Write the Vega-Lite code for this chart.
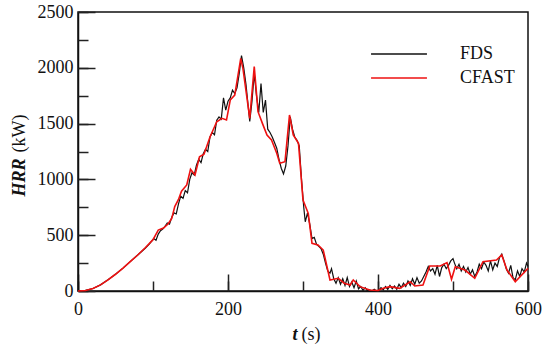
{
  "$schema": "https://vega.github.io/schema/vega-lite/v6.json",
  "width": 450,
  "height": 279,
  "autosize": {"type": "none"},
  "padding": {"left": 78, "top": 12, "right": 22, "bottom": 56},
  "background": "white",
  "config": {
    "font": "Liberation Serif",
    "view": {"stroke": "#111", "strokeWidth": 1.5},
    "axis": {
      "grid": false,
      "domainColor": "#111",
      "domainWidth": 1.5,
      "ticks": true,
      "tickColor": "#222",
      "tickWidth": 1.5,
      "labelFont": "Liberation Serif",
      "labelFontSize": 18,
      "labelColor": "#111",
      "titleFont": "Liberation Serif",
      "titleFontSize": 18,
      "titleColor": "#111"
    },
    "legend": {
      "labelFont": "Liberation Serif",
      "labelFontSize": 18,
      "labelColor": "#111"
    }
  },
  "datasets": {
    "fds": [
      {"t":0,"hrr":0},{"t":10,"hrr":5},{"t":20,"hrr":22},{"t":30,"hrr":55},{"t":40,"hrr":100},{"t":50,"hrr":150},{"t":60,"hrr":205},{"t":70,"hrr":265},{"t":80,"hrr":325},{"t":90,"hrr":385},{"t":95,"hrr":420},{"t":98,"hrr":445},{"t":101,"hrr":470},{"t":104,"hrr":455},{"t":107,"hrr":510},{"t":110,"hrr":540},{"t":113,"hrr":555},{"t":116,"hrr":580},{"t":119,"hrr":610},{"t":122,"hrr":600},{"t":125,"hrr":660},{"t":128,"hrr":700},{"t":131,"hrr":690},{"t":134,"hrr":780},{"t":137,"hrr":850},{"t":140,"hrr":830},{"t":143,"hrr":900},{"t":146,"hrr":880},{"t":149,"hrr":1000},{"t":152,"hrr":1060},{"t":155,"hrr":1040},{"t":158,"hrr":1130},{"t":161,"hrr":1180},{"t":164,"hrr":1150},{"t":167,"hrr":1230},{"t":170,"hrr":1270},{"t":173,"hrr":1250},{"t":176,"hrr":1380},{"t":179,"hrr":1420},{"t":182,"hrr":1400},{"t":185,"hrr":1530},{"t":188,"hrr":1560},{"t":191,"hrr":1540},{"t":194,"hrr":1730},{"t":197,"hrr":1620},{"t":200,"hrr":1700},{"t":203,"hrr":1730},{"t":206,"hrr":1800},{"t":209,"hrr":1770},{"t":212,"hrr":1820},{"t":215,"hrr":1950},{"t":218,"hrr":2110},{"t":221,"hrr":2000},{"t":224,"hrr":1850},{"t":227,"hrr":1650},{"t":229,"hrr":1520},{"t":232,"hrr":1700},{"t":235,"hrr":1950},{"t":238,"hrr":1750},{"t":241,"hrr":1600},{"t":244,"hrr":1860},{"t":247,"hrr":1600},{"t":250,"hrr":1710},{"t":253,"hrr":1450},{"t":256,"hrr":1420},{"t":259,"hrr":1380},{"t":262,"hrr":1330},{"t":265,"hrr":1280},{"t":268,"hrr":1180},{"t":271,"hrr":1100},{"t":274,"hrr":1050},{"t":277,"hrr":1120},{"t":280,"hrr":1300},{"t":283,"hrr":1560},{"t":286,"hrr":1450},{"t":289,"hrr":1380},{"t":292,"hrr":1350},{"t":295,"hrr":1300},{"t":298,"hrr":1000},{"t":301,"hrr":750},{"t":303,"hrr":620},{"t":306,"hrr":700},{"t":309,"hrr":600},{"t":312,"hrr":470},{"t":315,"hrr":480},{"t":318,"hrr":420},{"t":321,"hrr":400},{"t":324,"hrr":380},{"t":327,"hrr":330},{"t":330,"hrr":250},{"t":333,"hrr":180},{"t":336,"hrr":160},{"t":338,"hrr":200},{"t":341,"hrr":110},{"t":344,"hrr":70},{"t":347,"hrr":120},{"t":350,"hrr":60},{"t":353,"hrr":110},{"t":356,"hrr":50},{"t":359,"hrr":120},{"t":362,"hrr":40},{"t":365,"hrr":80},{"t":368,"hrr":30},{"t":371,"hrr":90},{"t":374,"hrr":20},{"t":377,"hrr":40},{"t":380,"hrr":5},{"t":383,"hrr":30},{"t":386,"hrr":0},{"t":389,"hrr":10},{"t":392,"hrr":0},{"t":395,"hrr":15},{"t":398,"hrr":0},{"t":401,"hrr":5},{"t":404,"hrr":30},{"t":407,"hrr":10},{"t":410,"hrr":40},{"t":413,"hrr":15},{"t":416,"hrr":50},{"t":419,"hrr":20},{"t":422,"hrr":45},{"t":425,"hrr":15},{"t":428,"hrr":60},{"t":431,"hrr":30},{"t":434,"hrr":70},{"t":437,"hrr":40},{"t":440,"hrr":90},{"t":443,"hrr":50},{"t":446,"hrr":110},{"t":449,"hrr":60},{"t":452,"hrr":120},{"t":455,"hrr":70},{"t":458,"hrr":90},{"t":461,"hrr":130},{"t":464,"hrr":170},{"t":467,"hrr":220},{"t":470,"hrr":180},{"t":473,"hrr":200},{"t":476,"hrr":150},{"t":479,"hrr":230},{"t":482,"hrr":130},{"t":485,"hrr":210},{"t":488,"hrr":240},{"t":491,"hrr":200},{"t":494,"hrr":230},{"t":497,"hrr":270},{"t":500,"hrr":290},{"t":502,"hrr":250},{"t":505,"hrr":200},{"t":508,"hrr":240},{"t":511,"hrr":180},{"t":514,"hrr":220},{"t":517,"hrr":170},{"t":520,"hrr":210},{"t":523,"hrr":150},{"t":526,"hrr":190},{"t":529,"hrr":130},{"t":532,"hrr":170},{"t":535,"hrr":240},{"t":538,"hrr":200},{"t":541,"hrr":260},{"t":544,"hrr":230},{"t":547,"hrr":180},{"t":550,"hrr":270},{"t":553,"hrr":190},{"t":556,"hrr":250},{"t":559,"hrr":220},{"t":562,"hrr":300},{"t":565,"hrr":330},{"t":568,"hrr":270},{"t":571,"hrr":200},{"t":574,"hrr":160},{"t":577,"hrr":230},{"t":580,"hrr":120},{"t":583,"hrr":100},{"t":586,"hrr":180},{"t":589,"hrr":130},{"t":592,"hrr":200},{"t":595,"hrr":170},{"t":598,"hrr":250},{"t":600,"hrr":220}
    ],
    "cfast": [
      {"t":0,"hrr":0},{"t":10,"hrr":5},{"t":20,"hrr":22},{"t":30,"hrr":55},{"t":40,"hrr":100},{"t":50,"hrr":150},{"t":60,"hrr":205},{"t":70,"hrr":265},{"t":80,"hrr":325},{"t":90,"hrr":390},{"t":100,"hrr":460},{"t":107,"hrr":546},{"t":114,"hrr":564},{"t":120,"hrr":600},{"t":125,"hrr":651},{"t":129,"hrr":756},{"t":134,"hrr":820},{"t":138,"hrr":895},{"t":145,"hrr":950},{"t":150,"hrr":1090},{"t":156,"hrr":1039},{"t":162,"hrr":1203},{"t":168,"hrr":1225},{"t":176,"hrr":1380},{"t":185,"hrr":1517},{"t":192,"hrr":1547},{"t":198,"hrr":1532},{"t":203,"hrr":1711},{"t":209,"hrr":1756},{"t":217,"hrr":2085},{"t":220,"hrr":1990},{"t":229,"hrr":1547},{"t":235,"hrr":2010},{"t":240,"hrr":1607},{"t":246,"hrr":1500},{"t":252,"hrr":1398},{"t":258,"hrr":1353},{"t":265,"hrr":1234},{"t":269,"hrr":1144},{"t":276,"hrr":1159},{"t":282,"hrr":1577},{"t":287,"hrr":1398},{"t":294,"hrr":1323},{"t":300,"hrr":815},{"t":307,"hrr":696},{"t":312,"hrr":427},{"t":320,"hrr":412},{"t":327,"hrr":367},{"t":336,"hrr":99},{"t":347,"hrr":114},{"t":355,"hrr":70},{"t":363,"hrr":54},{"t":367,"hrr":99},{"t":376,"hrr":39},{"t":389,"hrr":9},{"t":400,"hrr":5},{"t":407,"hrr":24},{"t":416,"hrr":39},{"t":429,"hrr":24},{"t":443,"hrr":83},{"t":449,"hrr":45},{"t":460,"hrr":54},{"t":469,"hrr":224},{"t":483,"hrr":224},{"t":492,"hrr":254},{"t":498,"hrr":105},{"t":503,"hrr":218},{"t":516,"hrr":188},{"t":529,"hrr":114},{"t":540,"hrr":263},{"t":558,"hrr":278},{"t":565,"hrr":323},{"t":572,"hrr":188},{"t":583,"hrr":83},{"t":600,"hrr":203}
    ]
  },
  "layer": [
    {
      "data": {"name": "fds"},
      "mark": {"type": "line", "strokeWidth": 1.2},
      "encoding": {
        "x": {
          "field": "t", "type": "quantitative",
          "scale": {"domain": [0, 600], "nice": false},
          "axis": {
            "orient": "bottom",
            "values": [0, 200, 400, 600],
            "ticks": true,
            "tickSize": -17,
            "labels": false,
            "domain": true,
            "title": "t",
            "titleFontStyle": "italic",
            "titleFontWeight": "bold",
            "titleX": 219,
            "titleY": 48,
            "titleAlign": "right",
            "titleAnchor": null,
            "titleBaseline": "alphabetic"
          }
        },
        "y": {
          "field": "hrr", "type": "quantitative",
          "scale": {"domain": [0, 2500], "nice": false},
          "axis": {
            "orient": "left",
            "values": [0, 500, 1000, 1500, 2000, 2500],
            "ticks": true,
            "tickSize": -17,
            "labels": false,
            "domain": true,
            "title": "HRR",
            "titleFontStyle": "italic",
            "titleFontWeight": "bold",
            "titleAngle": 270,
            "titleX": -54,
            "titleY": 184,
            "titleAlign": "left",
            "titleAnchor": null,
            "titleBaseline": "alphabetic"
          }
        },
        "color": {
          "datum": "FDS",
          "type": "nominal",
          "scale": {"domain": ["FDS", "CFAST"], "range": ["#111111", "#ee1111"]},
          "legend": {
            "title": null,
            "orient": "none",
            "legendX": 312,
            "legendY": 33,
            "padding": 0,
            "symbolType": "M-5,0H5",
            "symbolSize": 125,
            "symbolStrokeWidth": 1.5,
            "labelFont": "Liberation Serif",
            "labelFontSize": 18,
            "labelOffset": 52,
            "rowPadding": 6
          }
        }
      }
    },
    {
      "data": {"name": "cfast"},
      "mark": {"type": "line", "strokeWidth": 1.6},
      "encoding": {
        "x": {
          "field": "t", "type": "quantitative",
          "axis": {
            "orient": "bottom",
            "values": [0, 100, 200, 300, 400, 500, 600],
            "labelExpr": "datum.value % 200 == 0 ? datum.value + '' : ''",
            "ticks": true,
            "tickSize": -10,
            "labelPadding": 19,
            "labelFlush": false,
            "domain": false,
            "title": "(s)",
            "titleFontStyle": "normal",
            "titleFontWeight": "normal",
            "titleX": 223,
            "titleY": 48,
            "titleAlign": "left",
            "titleAnchor": null,
            "titleBaseline": "alphabetic"
          }
        },
        "y": {
          "field": "hrr", "type": "quantitative",
          "axis": {
            "orient": "left",
            "values": [0, 250, 500, 750, 1000, 1250, 1500, 1750, 2000, 2250, 2500],
            "labelExpr": "datum.value % 500 == 0 ? datum.value + '' : ''",
            "ticks": true,
            "tickSize": -10,
            "labelPadding": 15,
            "labelFlush": false,
            "domain": false,
            "title": "(kW)",
            "titleFontStyle": "normal",
            "titleFontWeight": "normal",
            "titleAngle": 270,
            "titleX": -54,
            "titleY": 140,
            "titleAlign": "left",
            "titleAnchor": null,
            "titleBaseline": "alphabetic"
          }
        },
        "color": {"datum": "CFAST", "type": "nominal"}
      }
    }
  ],
  "resolve": {"axis": {"x": "independent", "y": "independent"}}
}
